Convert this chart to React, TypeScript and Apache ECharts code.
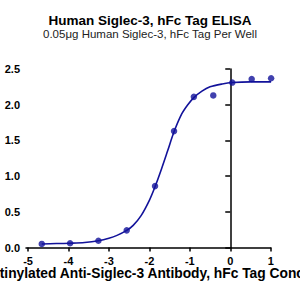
import React, { useEffect, useRef } from "react";
import * as echarts from "echarts";

const pointX = [-4.66, -3.96, -3.26, -2.56, -1.86, -1.39, -0.9, -0.42, 0.05, 0.53, 1.01];
const pointY = [0.05, 0.06, 0.095, 0.24, 0.86, 1.63, 2.11, 2.13, 2.31, 2.36, 2.37];

const curveX = [-4.66, -4.3, -3.96, -3.6, -3.26, -3.0, -2.8, -2.56, -2.4, -2.2, -2.0, -1.86, -1.7, -1.55, -1.39, -1.2, -1.05, -0.9, -0.7, -0.5, -0.2, 0.05, 0.5, 1.01];
const curveY = [0.05, 0.055, 0.06, 0.07, 0.095, 0.13, 0.17, 0.24, 0.31, 0.45, 0.66, 0.85, 1.1, 1.35, 1.62, 1.87, 2.0, 2.1, 2.19, 2.25, 2.29, 2.31, 2.32, 2.32];

const xTicks = [-5, -4, -3, -2, -1, 0, 1];

const title = "Human Siglec-3, hFc Tag ELISA";
const subtitle = "0.05μg Human Siglec-3, hFc Tag Per Well";
const xTitle = "Biotinylated Anti-Siglec-3 Antibody, hFc Tag Conc.(log μg/ml)";

const FONT = "'Liberation Sans', Arial, sans-serif";
const BLUE = "#12129a";

export default function App() {
  const ref = useRef<HTMLDivElement>(null);
  useEffect(() => {
    if (!ref.current) return;
    const chart = echarts.init(ref.current, undefined, { renderer: "svg" });
    chart.setOption({
      animation: false,
      backgroundColor: "#ffffff",
      grid: { left: 26, right: 29.3, top: 69, bottom: 52.5, containLabel: false },
      xAxis: {
        type: "value",
        min: -5.05,
        max: 1,
        interval: 1,
        axisLine: { show: true, onZero: false, lineStyle: { color: "#000", width: 1.5 } },
        axisTick: { show: true, length: 4, lineStyle: { color: "#000", width: 1.5 }, customValues: xTicks },
        axisLabel: {
          color: "#000",
          fontFamily: FONT,
          fontWeight: "bold",
          fontSize: 11,
          margin: 8,
          customValues: xTicks,
          formatter: (v: number) => String(v),
        },
        splitLine: { show: false },
      },
      yAxis: {
        type: "value",
        min: 0,
        max: 2.5,
        interval: 0.5,
        axisLine: { show: true, lineStyle: { color: "#000", width: 1.5 } },
        axisTick: { show: true, length: 5, lineStyle: { color: "#000", width: 1.5 } },
        axisLabel: {
          color: "#000",
          fontFamily: FONT,
          fontWeight: "bold",
          fontSize: 11,
          margin: 6,
          formatter: (v: number) => v.toFixed(1),
        },
        splitLine: { show: false },
      },
      series: [
        {
          type: "line",
          data: curveX.map((x, i) => [x, curveY[i]]),
          smooth: 0.3,
          showSymbol: false,
          symbol: "none",
          clip: false,
          lineStyle: { color: BLUE, width: 1.6 },
          z: 2,
        },
        {
          type: "scatter",
          data: pointX.map((x, i) => [x, pointY[i]]),
          symbol: "circle",
          symbolSize: 6.5,
          clip: false,
          itemStyle: { color: BLUE },
          z: 3,
        },
      ],
      graphic: [
        {
          type: "text",
          x: 150,
          y: 20,
          style: {
            text: title,
            fontFamily: FONT,
            fontWeight: "bold",
            fontSize: 13.5,
            fill: "#000",
            textAlign: "center",
            textVerticalAlign: "middle",
          },
        },
        {
          type: "text",
          x: 150,
          y: 34,
          style: {
            text: subtitle,
            fontFamily: FONT,
            fontSize: 11.5,
            fill: "#222",
            textAlign: "center",
            textVerticalAlign: "middle",
          },
        },
        {
          type: "text",
          x: -22.5,
          y: 273,
          style: {
            text: xTitle,
            fontFamily: FONT,
            fontWeight: "bold",
            fontSize: 13.8,
            fill: "#000",
            textAlign: "left",
            textVerticalAlign: "middle",
          },
        },
      ],
    });
    return () => chart.dispose();
  }, []);
  return <div ref={ref} style={{ width: 300, height: 300, position: "absolute", left: 0, top: 0 }} />;
}
